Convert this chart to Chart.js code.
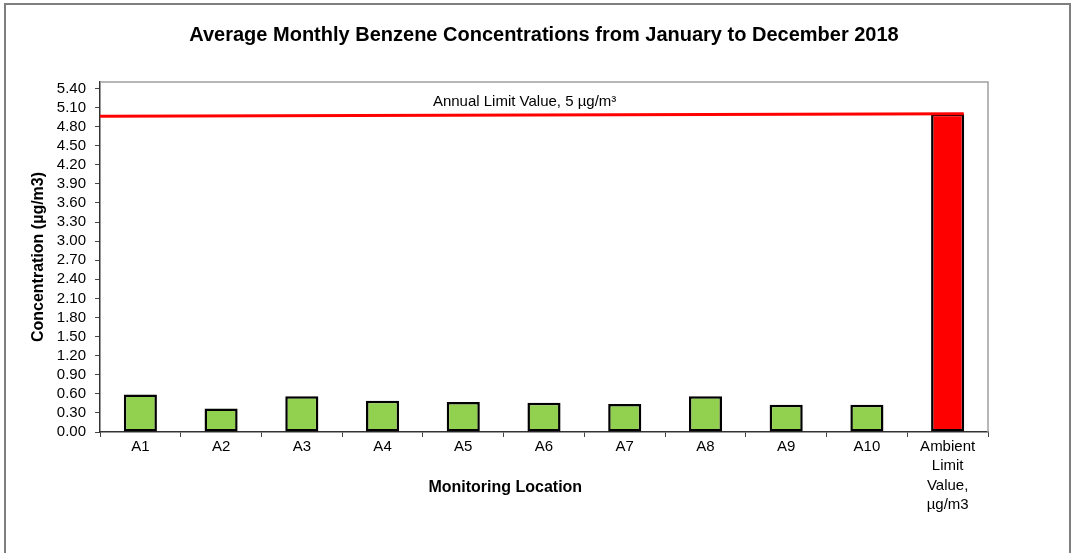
<!DOCTYPE html>
<html>
<head>
<meta charset="utf-8">
<script src="https://cdn.jsdelivr.net/npm/chart.js@4.4.0/dist/chart.umd.min.js"></script>
<style>
  html, body { margin: 0; padding: 0; background: #fff; }
  #wrap { width: 1072px; height: 553px; position: relative; }
</style>
</head>
<body>
<div id="wrap"><canvas id="myChart"></canvas></div>
<script>
var locations = ['A1', 'A2', 'A3', 'A4', 'A5', 'A6', 'A7', 'A8', 'A9', 'A10', ['Ambient', 'Limit', 'Value,', 'µg/m3']];
var benzene = [0.59, 0.37, 0.56, 0.49, 0.47, 0.46, 0.44, 0.56, 0.43, 0.43, 5.0];
var barColors = ['#92D050', '#92D050', '#92D050', '#92D050', '#92D050', '#92D050', '#92D050', '#92D050', '#92D050', '#92D050', '#FF0000'];
var yTicks = [0, 0.3, 0.6, 0.9, 1.2, 1.5, 1.8, 2.1, 2.4, 2.7, 3.0, 3.3, 3.6, 3.9, 4.2, 4.5, 4.8, 5.1, 5.4];
var limitLineX = [-0.5, 10.2];
var limitLineY = [4.96, 5.0];
var limitText = 'Annual Limit Value, 5 µg/m³';
var xTitle = 'Monitoring Location';

var FONT = 'Arial, "Liberation Sans", sans-serif';

// frame round the picture, plot box, limit label and x title
var extras = {
    id: 'extras',
    afterDraw: function(chart) {
        var c = chart.ctx, a = chart.chartArea;
        c.save();
        c.strokeStyle = '#7f7f7f';
        c.lineWidth = 2;
        c.strokeRect(5, 4, 1065, 600);
        c.strokeStyle = '#a0a0a0';
        c.lineWidth = 1.5;
        c.beginPath();
        c.moveTo(a.left, a.top);
        c.lineTo(a.right, a.top);
        c.lineTo(a.right, a.bottom);
        c.stroke();
        var x2 = chart.scales.x2, y = chart.scales.y;
        c.fillStyle = '#000';
        c.textAlign = 'center';
        c.textBaseline = 'middle';
        c.font = '15px ' + FONT;
        c.fillText(limitText, x2.getPixelForValue(4.76), y.getPixelForValue(5.0) - 12);
        c.font = 'bold 16px ' + FONT;
        c.fillText(xTitle, x2.getPixelForValue(4.52), a.bottom + 56);
        c.restore();
    }
};

var ctx = document.getElementById('myChart').getContext('2d');
var myChart = new Chart(ctx, {
    type: 'bar',
    data: {
        labels: locations,
        datasets: [{
            data: benzene,
            backgroundColor: barColors,
            borderColor: '#000',
            borderWidth: 2.5,
            borderSkipped: false,
            grouped: false,
            barPercentage: 0.41,
            categoryPercentage: 1,
            order: 2
        }, {
            type: 'line',
            xAxisID: 'x2',
            data: limitLineX.map(function(v, i) { return {x: v, y: limitLineY[i]}; }),
            borderColor: '#FF0000',
            borderWidth: 3,
            pointRadius: 0,
            fill: false,
            order: 1
        }]
    },
    options: {
        responsive: true,
        maintainAspectRatio: false,
        animation: false,
        layout: { padding: { left: 25, right: 84, top: 0, bottom: 37 } },
        plugins: {
            legend: { display: false },
            tooltip: { enabled: false },
            title: {
                display: true,
                fullSize: false,
                text: 'Average Monthly Benzene Concentrations from January to December 2018',
                color: '#000',
                font: { family: FONT, size: 20, weight: 'bold', lineHeight: 1.2 },
                padding: { top: 23, bottom: 35 }
            }
        },
        scales: {
            x: {
                grid: { offset: true, drawOnChartArea: false, drawTicks: true, tickLength: 5, color: '#444' },
                border: { color: '#333', width: 1.5 },
                ticks: { color: '#000', padding: 0, maxRotation: 0, autoSkip: false,
                         font: { family: FONT, size: 15, lineHeight: 1.29 } },
                afterFit: function(s) { s.height = 84; }
            },
            x2: {
                type: 'linear',
                display: false,
                offset: false,
                min: -0.5,
                max: 10.5
            },
            y: {
                min: 0,
                max: 5.5,
                afterBuildTicks: function(s) { s.ticks = yTicks.map(function(v) { return {value: v}; }); },
                grid: { drawOnChartArea: false, drawTicks: true, tickLength: 5, color: '#444' },
                border: { color: '#333', width: 1.5 },
                ticks: { color: '#000', padding: 9, autoSkip: false,
                         font: { family: FONT, size: 15 },
                         callback: function(v) { return Number(v).toFixed(2); } },
                title: { display: true, text: 'Concentration (µg/m3)', color: '#000',
                         font: { family: FONT, size: 16, weight: 'bold' }, padding: 4 },
                afterFit: function(s) { s.width = 75; }
            }
        }
    },
    plugins: [extras]
});
</script>
</body>
</html>
